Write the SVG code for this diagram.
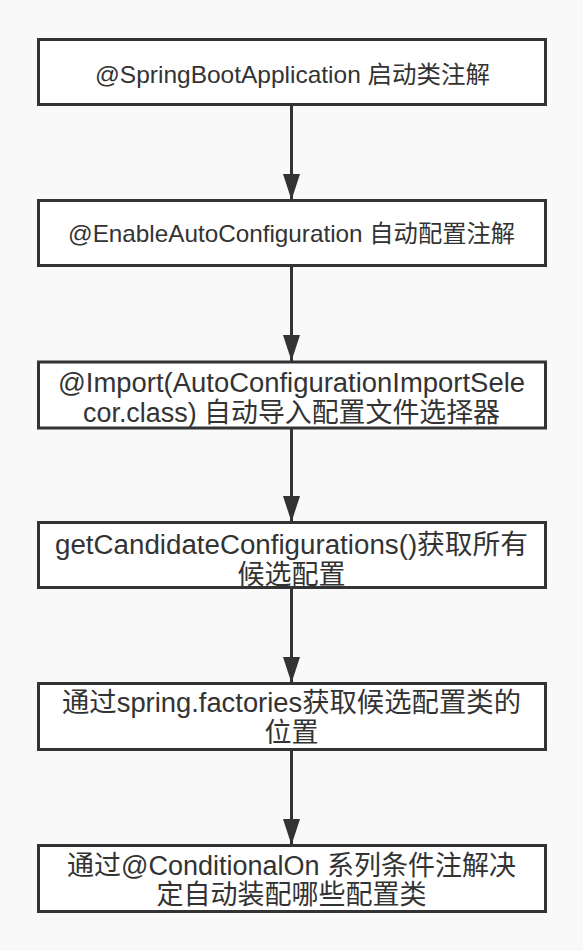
<svg xmlns="http://www.w3.org/2000/svg" width="583" height="951" viewBox="0 0 583 951">
<defs>
<style>
.box{fill:#ffffff;stroke:#333333;stroke-width:3}
.t{font-family:"Liberation Sans","Noto Sans CJK SC",sans-serif;fill:#333333;text-anchor:middle}
.s{font-size:24px}
.l{font-size:27px}
.c{stroke:#333333;stroke-width:3;fill:none}
</style>
<marker id="ah" markerWidth="26" markerHeight="17" refX="26" refY="8.5" orient="auto" markerUnits="userSpaceOnUse">
<path d="M0,0 L26,8.5 L0,17 Z" fill="#333333"/>
</marker>
</defs>
<rect width="583" height="951" fill="#f9f9f9"/>
<g id="connectors">
<line class="c" x1="291.5" y1="105" x2="291.5" y2="200" marker-end="url(#ah)"/>
<line class="c" x1="291.5" y1="266" x2="291.5" y2="361" marker-end="url(#ah)"/>
<line class="c" x1="291.5" y1="428" x2="291.5" y2="522" marker-end="url(#ah)"/>
<line class="c" x1="291.5" y1="588" x2="291.5" y2="683" marker-end="url(#ah)"/>
<line class="c" x1="291.5" y1="750" x2="291.5" y2="845" marker-end="url(#ah)"/>
</g>
<g id="n1">
<rect class="box" x="38.5" y="39.5" width="507" height="65"/>
<text class="t s" x="292.5" y="83" textLength="395" lengthAdjust="spacingAndGlyphs">@SpringBootApplication 启动类注解</text>
</g>
<g id="n2">
<rect class="box" x="38.5" y="200.5" width="507" height="65"/>
<text class="t s" x="291.5" y="242" textLength="447" lengthAdjust="spacingAndGlyphs">@EnableAutoConfiguration 自动配置注解</text>
</g>
<g id="n3">
<rect class="box" x="38.5" y="362" width="507" height="66"/>
<text class="t l" x="291.5" y="392" textLength="467" lengthAdjust="spacingAndGlyphs">@Import(AutoConfigurationImportSele</text>
<text class="t l" x="291.5" y="422" textLength="417" lengthAdjust="spacingAndGlyphs">cor.class) 自动导入配置文件选择器</text>
</g>
<g id="n4">
<rect class="box" x="38.5" y="522.5" width="507" height="65"/>
<text class="t l" x="291.5" y="554" textLength="473" lengthAdjust="spacingAndGlyphs">getCandidateConfigurations()获取所有</text>
<text class="t l" x="291.5" y="584">候选配置</text>
</g>
<g id="n5">
<rect class="box" x="38.5" y="683.5" width="507" height="66"/>
<text class="t l" x="291.5" y="712" textLength="459" lengthAdjust="spacingAndGlyphs">通过spring.factories获取候选配置类的</text>
<text class="t l" x="291.5" y="742">位置</text>
</g>
<g id="n6">
<rect class="box" x="38.5" y="845.5" width="507" height="66"/>
<text class="t l" x="291.5" y="875" textLength="449" lengthAdjust="spacingAndGlyphs">通过@ConditionalOn 系列条件注解决</text>
<text class="t l" x="291.5" y="904">定自动装配哪些配置类</text>
</g>
</svg>
